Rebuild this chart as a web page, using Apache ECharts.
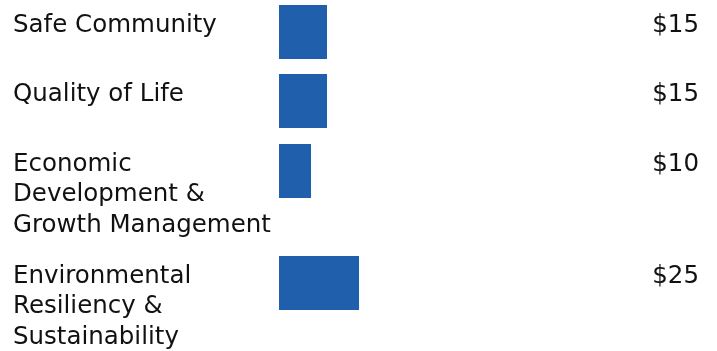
<!DOCTYPE html>
<html><head><meta charset="utf-8">
<script src="https://cdn.jsdelivr.net/npm/echarts@6/dist/echarts.min.js"></script>
<style>html,body{margin:0;padding:0;background:#fff}#c{width:717px;height:351px}</style>
</head><body><div id="c"></div>
<script>
const categories = ['Safe Community', 'Quality of Life', 'Economic\nDevelopment &\nGrowth Management', 'Environmental\nResiliency &\nSustainability'];
const values = [15, 15, 10, 25];
const valuePrefix = '$';

// layout
const rowTops = [5, 74, 144, 256];
const barH = 54, gridLeft = 279, gridW = 320;
const font = 'DejaVu Sans', fs = 24.5, lh = 30.5, txt = '#111111';

const chart = echarts.init(document.getElementById('c'), null, {renderer: 'canvas'});
const grid = [], xAxis = [], yAxis = [], series = [];
categories.forEach((cat, i) => {
  grid.push({left: gridLeft, top: rowTops[i], width: gridW, height: barH, containLabel: false, outerBoundsMode: 'none'});
  xAxis.push({gridIndex: i, type: 'value', min: 0, max: 100, show: false});
  yAxis.push({gridIndex: i, type: 'category', data: [cat], position: 'left',
    axisLine: {show: false}, axisTick: {show: false}, splitLine: {show: false},
    axisLabel: {margin: gridLeft - 13, align: 'left', verticalAlign: 'top', padding: [-22, 0, 0, 0],
      fontFamily: font, fontSize: fs, lineHeight: lh, color: txt}});
  yAxis.push({gridIndex: i, type: 'category', data: [values[i]], position: 'right', offset: 100,
    axisLine: {show: false}, axisTick: {show: false}, splitLine: {show: false},
    axisLabel: {margin: 0, align: 'right', verticalAlign: 'top', padding: [-22, 0, 0, 0],
      formatter: v => valuePrefix + v,
      fontFamily: font, fontSize: fs, lineHeight: lh, color: txt}});
  series.push({type: 'bar', xAxisIndex: i, yAxisIndex: 2 * i, data: [values[i]], barWidth: barH,
    itemStyle: {color: '#1f5fab'}, silent: true});
});
chart.setOption({animation: false, grid, xAxis, yAxis, series});
</script></body></html>
